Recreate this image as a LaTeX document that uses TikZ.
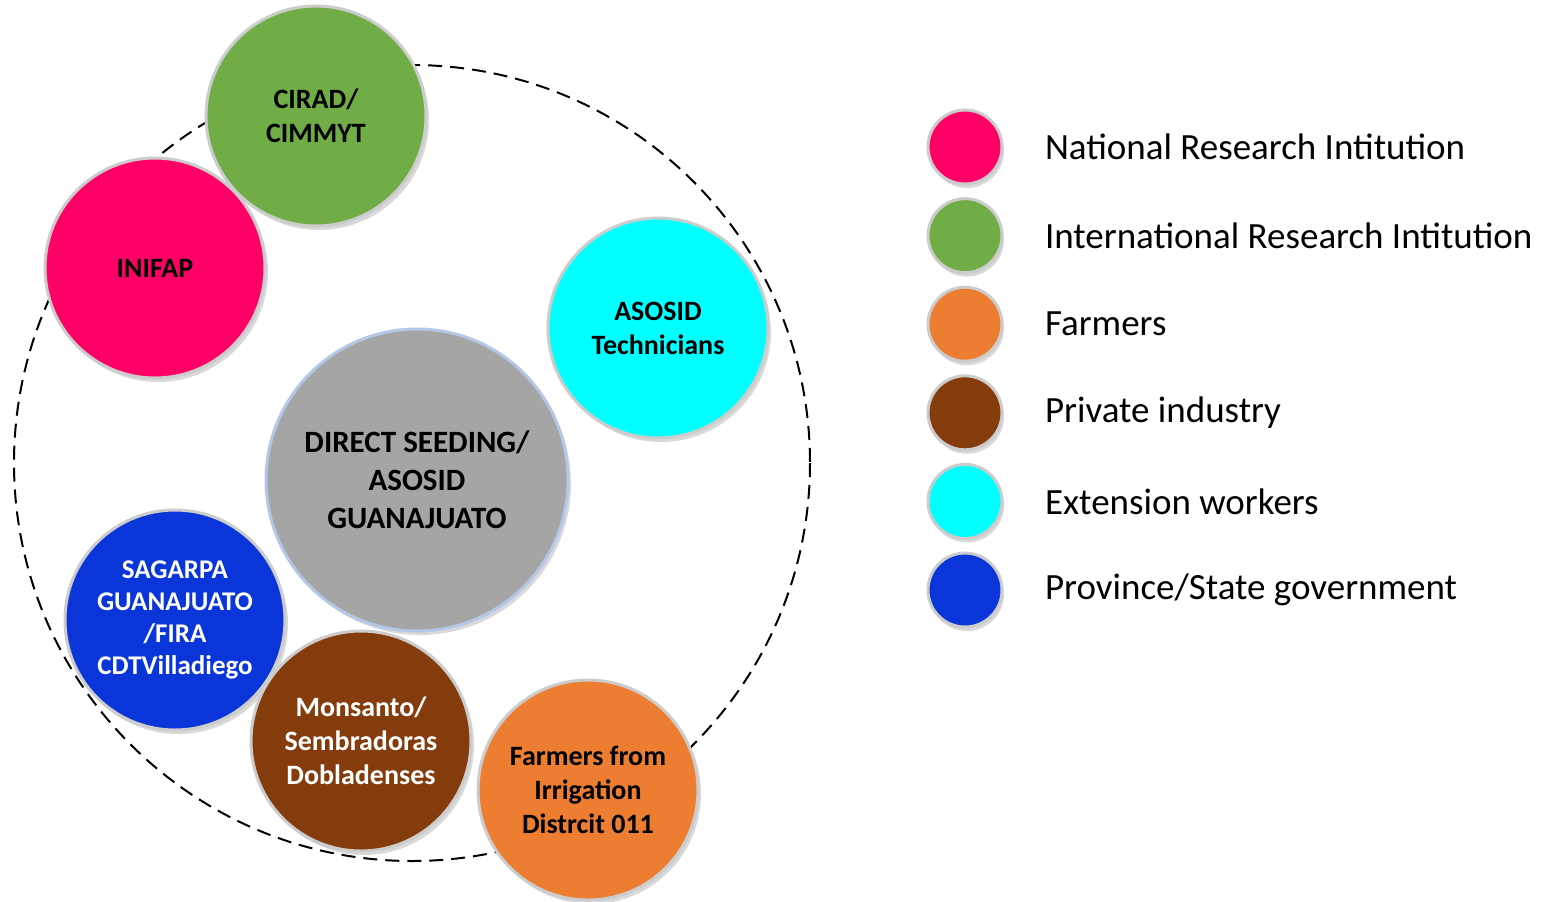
\documentclass[tikz,border=0pt]{standalone}
\usepackage{fontspec}
\setmainfont{Carlito}
\usetikzlibrary{shadows}
\definecolor{natcol}{HTML}{FF0066}
\definecolor{intcol}{HTML}{70AD47}
\definecolor{farcol}{HTML}{ED7D31}
\definecolor{pricol}{HTML}{843C0C}
\definecolor{extcol}{HTML}{00FFFF}
\definecolor{govcol}{HTML}{0A36D9}
\definecolor{midcol}{HTML}{A5A5A5}
\definecolor{midrim}{HTML}{B4C7E7}
\tikzset{
  actor/.style={circle, draw=black!20, line width=1.5pt, minimum size=110pt, inner sep=0pt,
    align=center, font=\bfseries\fontsize{14}{17}\selectfont,
    drop shadow={shadow xshift=1.5pt, shadow yshift=-2pt, fill=black!25, opacity=.6}},
  legdot/.style={circle, draw=black!20, line width=1.5pt, minimum size=37pt, inner sep=0pt,
    drop shadow={shadow xshift=1pt, shadow yshift=-2pt, fill=black!25, opacity=.6}},
}
\begin{document}
\begin{tikzpicture}[x=0.5pt, y=-0.5pt, line join=round]
\useasboundingbox (0,0) rectangle (1542,901);
% outer ring
\draw[line width=1pt, dash pattern=on 7pt off 4pt] (412,463) circle[radius=398];
% centre
\node[actor, draw=midrim, minimum size=151pt, fill=midcol, font=\bfseries\fontsize{15.5}{19}\selectfont] (seeding) at (417,480) {DIRECT SEEDING/\\ASOSID\\GUANAJUATO};
% actors round it
\node[actor, fill=intcol] (cirad) at (316,116) {CIRAD/\\CIMMYT};
\node[actor, fill=natcol] (inifap) at (155,268) {INIFAP};
\node[actor, fill=extcol] (asosid) at (658,328) {ASOSID\\Technicians};
\node[actor, fill=govcol, text=white, font=\bfseries\fontsize{13.5}{16}\selectfont] (sagarpa) at (175,620) {SAGARPA\\GUANAJUATO\\/FIRA\\CDTVilladiego};
\node[actor, fill=pricol, text=white] (monsanto) at (361,741) {Monsanto/\\Sembradoras\\Dobladenses};
\node[actor, fill=farcol] (farmers) at (588,790) {Farmers from\\Irrigation\\Distrcit 011};
% legend
\foreach \col/\txt [count=\i] in {natcol/National Research Intitution, intcol/International Research Intitution, farcol/Farmers, pricol/Private industry, extcol/Extension workers, govcol/{Province/State government}}{
  \node[legdot, fill=\col] (dot\i) at (965,{147+(\i-1)*88.6}) {};
  \node[anchor=west, font=\fontsize{18.5}{22}\selectfont] (leg\i) at (1038,{147+(\i-1)*88.6}) {\txt};
}
\end{tikzpicture}
\end{document}
